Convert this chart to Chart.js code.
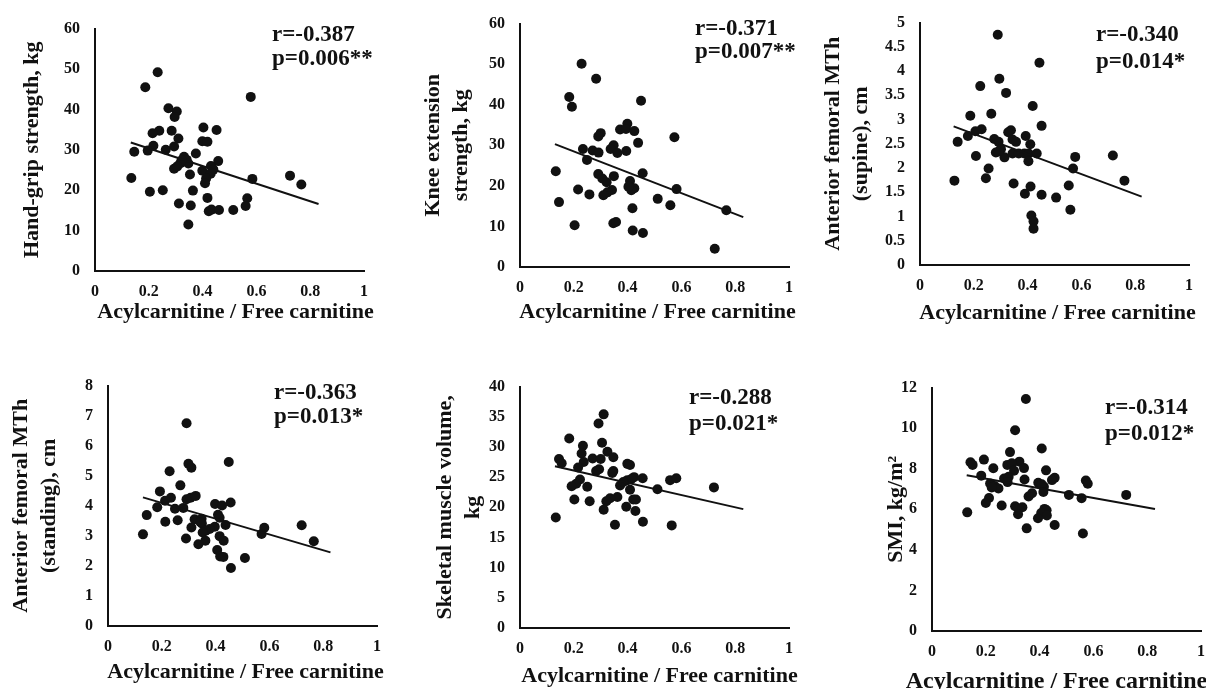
<!DOCTYPE html>
<html>
<head>
<meta charset="utf-8">
<script src="https://cdn.jsdelivr.net/npm/chart.js@4.4.1/dist/chart.umd.min.js"></script>
<style>
  html, body { margin: 0; padding: 0; background: #fff; overflow: hidden; }
  body { width: 1206px; height: 689px; position: relative; }
  canvas { position: absolute; }
</style>
</head>
<body>
<canvas id="c0"></canvas>
<canvas id="c1"></canvas>
<canvas id="c2"></canvas>
<canvas id="c3"></canvas>
<canvas id="c4"></canvas>
<canvas id="c5"></canvas>
<script>
// x axis shared by all panels
const xTicks = [0, 0.2, 0.4, 0.6, 0.8, 1];
const xTitle = 'Acylcarnitine / Free carnitine';

// y axis titles and ticks
const yTitles = [
  'Hand-grip strength, kg',
  ['Knee extension', 'strength, kg'],
  ['Anterior femoral MTh', '(supine), cm'],
  ['Anterior femoral MTh', '(standing), cm'],
  ['Skeletal muscle volume,', 'kg'],
  'SMI, kg/m\u00b2'
];
const gripTicks = [0, 10, 20, 30, 40, 50, 60];
const kneeTicks = [0, 10, 20, 30, 40, 50, 60];
const supineTicks = [0, 0.5, 1, 1.5, 2, 2.5, 3, 3.5, 4, 4.5, 5];
const standingTicks = [0, 1, 2, 3, 4, 5, 6, 7, 8];
const volumeTicks = [0, 5, 10, 15, 20, 25, 30, 35, 40];
const smiTicks = [0, 2, 4, 6, 8, 10, 12];

const rLabels = ['r=-0.387', 'r=-0.371', 'r=-0.340', 'r=-0.363', 'r=-0.288', 'r=-0.314'];
const pLabels = ['p=0.006**', 'p=0.007**', 'p=0.014*', 'p=0.013*', 'p=0.021*', 'p=0.012*'];

// [acylcarnitine / free carnitine, value]
const handGrip = [[0.233,49.2],[0.187,45.5],[0.579,43.1],[0.273,40.3],[0.304,39.5],[0.296,38.1],[0.403,35.5],[0.452,34.9],[0.239,34.7],[0.214,34.1],[0.285,34.7],[0.310,32.8],[0.399,32.1],[0.418,32.0],[0.217,31.0],[0.146,29.5],[0.196,29.8],[0.263,30.0],[0.294,30.8],[0.375,29.1],[0.331,28.3],[0.341,27.5],[0.318,26.7],[0.347,26.6],[0.458,27.2],[0.294,25.3],[0.431,26.0],[0.399,24.8],[0.440,25.1],[0.430,24.1],[0.353,23.9],[0.413,22.9],[0.135,23.0],[0.585,22.8],[0.725,23.6],[0.767,21.4],[0.409,21.7],[0.204,19.6],[0.252,20.0],[0.364,19.9],[0.418,18.1],[0.312,16.7],[0.356,16.2],[0.566,18.0],[0.560,16.1],[0.423,14.8],[0.433,15.2],[0.461,15.1],[0.514,15.1],[0.347,11.5],[0.322,27.4],[0.306,25.9]];
const kneeExt = [[0.229,50.1],[0.283,46.4],[0.183,41.9],[0.193,39.5],[0.450,41.0],[0.399,35.3],[0.372,33.9],[0.394,34.0],[0.425,33.5],[0.300,33.0],[0.291,32.2],[0.574,32.0],[0.439,30.6],[0.348,30.0],[0.337,29.1],[0.234,29.1],[0.270,28.7],[0.292,28.2],[0.362,28.1],[0.395,28.6],[0.249,26.4],[0.133,23.6],[0.456,23.1],[0.291,22.9],[0.306,21.8],[0.322,20.9],[0.349,22.4],[0.409,21.2],[0.410,19.6],[0.425,19.4],[0.414,18.9],[0.582,19.2],[0.216,19.1],[0.258,17.9],[0.342,19.0],[0.325,18.4],[0.310,17.7],[0.512,16.8],[0.145,16.0],[0.559,15.2],[0.418,14.5],[0.767,14.0],[0.203,10.3],[0.347,10.8],[0.357,11.1],[0.419,9.0],[0.457,8.4],[0.724,4.5],[0.403,19.8]];
const femurSupine = [[0.289,4.75],[0.444,4.17],[0.295,3.84],[0.224,3.69],[0.320,3.55],[0.419,3.28],[0.187,3.08],[0.265,3.12],[0.452,2.87],[0.229,2.80],[0.206,2.76],[0.338,2.78],[0.328,2.74],[0.178,2.66],[0.393,2.66],[0.140,2.54],[0.276,2.60],[0.292,2.54],[0.344,2.59],[0.357,2.54],[0.410,2.49],[0.301,2.39],[0.282,2.32],[0.314,2.22],[0.344,2.30],[0.367,2.30],[0.388,2.30],[0.404,2.30],[0.434,2.30],[0.403,2.14],[0.208,2.25],[0.577,2.23],[0.717,2.26],[0.255,1.99],[0.569,1.99],[0.245,1.79],[0.128,1.74],[0.760,1.74],[0.348,1.68],[0.553,1.64],[0.411,1.62],[0.390,1.47],[0.452,1.45],[0.506,1.39],[0.559,1.14],[0.414,1.02],[0.422,0.90],[0.422,0.75],[0.292,2.34]];
const femurStanding = [[0.292,6.75],[0.449,5.46],[0.299,5.40],[0.310,5.27],[0.229,5.15],[0.269,4.68],[0.193,4.48],[0.234,4.27],[0.212,4.17],[0.292,4.22],[0.307,4.27],[0.326,4.33],[0.398,4.06],[0.424,4.01],[0.456,4.11],[0.183,3.95],[0.249,3.90],[0.280,3.93],[0.144,3.69],[0.409,3.70],[0.322,3.55],[0.348,3.57],[0.213,3.47],[0.259,3.52],[0.415,3.60],[0.349,3.41],[0.437,3.36],[0.310,3.28],[0.397,3.30],[0.378,3.23],[0.363,3.17],[0.352,3.11],[0.581,3.27],[0.571,3.06],[0.720,3.35],[0.130,3.05],[0.415,2.99],[0.430,2.84],[0.290,2.91],[0.362,2.84],[0.336,2.72],[0.765,2.82],[0.406,2.53],[0.417,2.31],[0.429,2.30],[0.509,2.26],[0.457,1.93],[0.343,3.46]];
const muscleVol = [[0.311,35.4],[0.292,33.9],[0.183,31.4],[0.234,30.2],[0.305,30.7],[0.229,28.9],[0.325,29.2],[0.347,28.3],[0.145,28.0],[0.270,28.1],[0.300,28.0],[0.155,27.3],[0.237,27.5],[0.399,27.2],[0.409,27.0],[0.216,26.6],[0.294,26.3],[0.283,26.0],[0.347,26.0],[0.343,25.7],[0.424,25.0],[0.456,24.8],[0.558,24.5],[0.581,24.8],[0.721,23.3],[0.399,24.5],[0.414,24.7],[0.223,24.6],[0.209,23.9],[0.192,23.5],[0.250,23.4],[0.372,23.6],[0.511,23.0],[0.409,22.9],[0.362,21.7],[0.335,21.5],[0.321,21.0],[0.202,21.3],[0.259,21.0],[0.421,21.3],[0.431,21.3],[0.395,20.1],[0.311,19.6],[0.429,19.4],[0.133,18.3],[0.457,17.6],[0.353,17.1],[0.564,17.0],[0.384,24.2]];
const smi = [[0.349,11.44],[0.309,9.90],[0.408,9.00],[0.290,8.82],[0.193,8.45],[0.143,8.32],[0.151,8.19],[0.325,8.35],[0.280,8.19],[0.297,8.27],[0.228,8.02],[0.342,8.03],[0.305,7.90],[0.424,7.92],[0.183,7.66],[0.268,7.52],[0.285,7.60],[0.344,7.47],[0.456,7.55],[0.446,7.44],[0.572,7.42],[0.579,7.26],[0.281,7.34],[0.216,7.27],[0.233,7.15],[0.247,7.03],[0.222,7.08],[0.395,7.31],[0.416,7.11],[0.408,7.23],[0.414,6.85],[0.509,6.71],[0.722,6.71],[0.372,6.79],[0.359,6.63],[0.556,6.55],[0.212,6.56],[0.200,6.31],[0.259,6.19],[0.309,6.15],[0.336,6.10],[0.131,5.85],[0.418,6.02],[0.426,5.95],[0.320,5.76],[0.406,5.82],[0.427,5.69],[0.394,5.56],[0.456,5.23],[0.352,5.06],[0.561,4.81]];

// regression line end points
const gripFit = [[0.133,31.8],[0.831,16.6]];
const kneeFit = [[0.130,30.3],[0.830,12.3]];
const supineFit = [[0.125,2.86],[0.824,1.41]];
const standingFit = [[0.130,4.28],[0.827,2.45]];
const volumeFit = [[0.130,26.8],[0.830,19.7]];
const smiFit = [[0.129,7.68],[0.829,6.02]];

const series = [handGrip, kneeExt, femurSupine, femurStanding, muscleVol, smi];
const fits = [gripFit, kneeFit, supineFit, standingFit, volumeFit, smiFit];
const yTickSets = [gripTicks, kneeTicks, supineTicks, standingTicks, volumeTicks, smiTicks];

// where each plot sits on the page
const panels = [
  { left: 95,  top: 24,  bottom: 271, yPad: 24, xOff: 41, xShift: 6,   xSize: 22, dx: 177, dy: [6, 30] },
  { left: 520, top: 19,  bottom: 267, yPad: 0,  xOff: 45, xShift: 3,   xSize: 22, dx: 175, dy: [5, 28] },
  { left: 920, top: 18,  bottom: 265, yPad: 0,  xOff: 48, xShift: 3,   xSize: 22, dx: 176, dy: [12, 39] },
  { left: 108, top: 381, bottom: 626, yPad: 0,  xOff: 46, xShift: 3,   xSize: 22, dx: 166, dy: [7, 31] },
  { left: 520, top: 382, bottom: 628, yPad: 12, xOff: 48, xShift: 5,   xSize: 22, dx: 169, dy: [11, 37] },
  { left: 932, top: 383, bottom: 631, yPad: 51, xOff: 51, xShift: -10, xSize: 24, dx: 173, dy: [20, 46] }
];

const Y_BOX = 100, X_BOX = 66, PLOT_W = 269, PAD_T = 20, PAD_R = 20;
const FAMILY = '"Liberation Serif", "Times New Roman", serif';
const INK = '#111';

// r / p text and the x axis title (drawn without the scale's width clamp)
const textPlugin = {
  id: 'panelText',
  afterDraw(chart, args, opts) {
    const { ctx, chartArea } = chart;
    ctx.save();
    ctx.fillStyle = INK;
    ctx.textBaseline = 'middle';
    ctx.font = 'bold 23px ' + FAMILY;
    ctx.textAlign = 'left';
    opts.lines.forEach((t, i) => ctx.fillText(t, chartArea.left + opts.dx, chartArea.top + opts.dy[i]));
    ctx.font = 'bold ' + opts.xSize + 'px ' + FAMILY;
    ctx.textAlign = 'center';
    ctx.fillText(opts.xTitle, (chartArea.left + chartArea.right) / 2 + opts.xShift, chartArea.bottom + opts.xOff);
    ctx.restore();
  }
};

const toPoints = arr => arr.map(([x, y]) => ({ x, y }));

function makeChart(i) {
  const p = panels[i];
  const yTicks = yTickSets[i];
  const canvas = document.getElementById('c' + i);
  canvas.width = Y_BOX + PLOT_W + PAD_R + 20;
  canvas.height = PAD_T + (p.bottom - p.top) + X_BOX;
  canvas.style.left = (p.left - Y_BOX) + 'px';
  canvas.style.top = (p.top - PAD_T) + 'px';

  const tickFont = { family: FAMILY, size: 16, weight: 'bold' };
  const yTitleFont = { family: FAMILY, size: 22, weight: 'bold', lineHeight: 1.25 };

  new Chart(canvas, {
    type: 'scatter',
    data: {
      datasets: [
        {
          data: toPoints(fits[i]),
          showLine: true,
          borderColor: INK,
          borderWidth: 2,
          pointRadius: 0
        },
        {
          data: toPoints(series[i]),
          backgroundColor: INK,
          borderColor: INK,
          pointRadius: 5,
          pointBorderWidth: 0
        }
      ]
    },
    options: {
      responsive: false,
      animation: false,
      events: [],
      layout: { padding: { top: PAD_T, right: PAD_R + 20, left: 0, bottom: 0 } },
      plugins: {
        legend: { display: false },
        tooltip: { enabled: false },
        panelText: {
          lines: [rLabels[i], pLabels[i]], dx: p.dx, dy: p.dy,
          xTitle: xTitle, xSize: p.xSize, xOff: p.xOff, xShift: p.xShift
        }
      },
      scales: {
        x: {
          type: 'linear',
          min: 0,
          max: 1,
          afterBuildTicks: s => { s.ticks = xTicks.map(v => ({ value: v })); },
          afterFit: s => { s.height = X_BOX; },
          grid: { display: false, drawTicks: false },
          border: { display: true, color: INK, width: 2 },
          ticks: { padding: 11, color: INK, font: tickFont, autoSkip: false, maxRotation: 0, callback: v => String(v) },
          title: { display: false }
        },
        y: {
          type: 'linear',
          min: yTicks[0],
          max: yTicks[yTicks.length - 1],
          afterBuildTicks: s => { s.ticks = yTicks.map(v => ({ value: v })); },
          afterFit: s => { s.width = Y_BOX; },
          grid: { display: false, drawTicks: false },
          border: { display: true, color: INK, width: 2 },
          ticks: { padding: 15, color: INK, font: tickFont, autoSkip: false, callback: v => String(v) },
          title: {
            display: true,
            text: yTitles[i],
            color: INK,
            font: yTitleFont,
            padding: { top: p.yPad, bottom: 0 }
          }
        }
      }
    },
    plugins: [textPlugin]
  });
}

for (let i = 0; i < panels.length; i++) makeChart(i);
</script>
</body>
</html>
